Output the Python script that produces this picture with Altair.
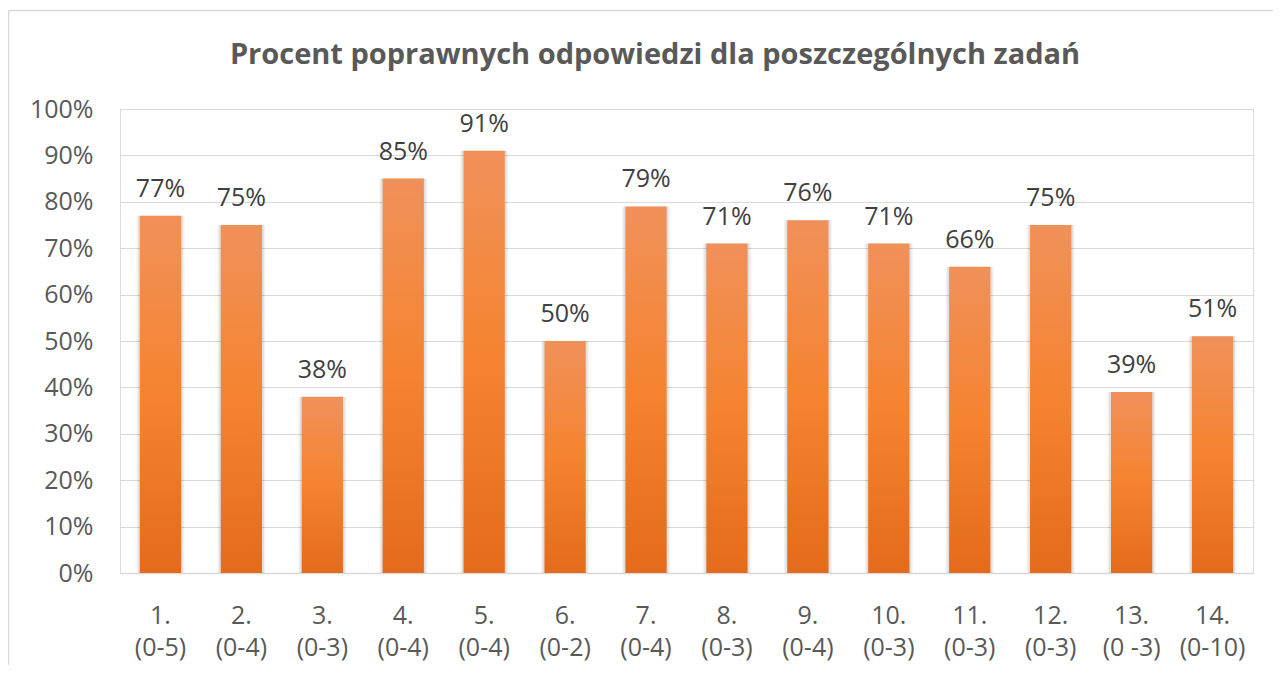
import altair as alt
import pandas as pd

title_text = "Procent poprawnych odpowiedzi dla poszczególnych zadań"
tasks = ["1.", "2.", "3.", "4.", "5.", "6.", "7.", "8.", "9.", "10.", "11.", "12.", "13.", "14."]
ranges = ["(0-5)", "(0-4)", "(0-3)", "(0-4)", "(0-4)", "(0-2)", "(0-4)", "(0-3)", "(0-4)",
          "(0-3)", "(0-3)", "(0-3)", "(0 -3)", "(0-10)"]
percent = [77, 75, 38, 85, 91, 50, 79, 71, 76, 71, 66, 75, 39, 51]
y_ticks = [0, 0.1, 0.2, 0.3, 0.4, 0.5, 0.6, 0.7, 0.8, 0.9, 1.0]

df = pd.DataFrame({
    "cat": [f"{t}\n{r}" for t, r in zip(tasks, ranges)],
    "value": [p / 100 for p in percent],
    "label": [f"{p}%" for p in percent],
})

FONT = "Open Sans"
GRAY = "#595959"

x_enc = alt.X("cat:N", sort=None,
              scale=alt.Scale(paddingInner=0.49, paddingOuter=0.245),
              axis=alt.Axis(title=None, labelAngle=0, labelExpr="split(datum.label, '\\n')",
                            ticks=False, domainColor="#D9D9D9", domainWidth=1.5,
                            labelFont=FONT, labelFontSize=25, labelColor=GRAY,
                            labelPadding=30, labelLineHeight=32, grid=False))
y_enc = alt.Y("value:Q", scale=alt.Scale(domain=[0, 1]),
              axis=alt.Axis(title=None, format=".0%", values=y_ticks, domain=False, ticks=False,
                            gridColor="#D9D9D9", gridWidth=1.2, labelFont=FONT, labelFontSize=25,
                            labelColor=GRAY, labelPadding=27))

base = alt.Chart(df)

shadow1 = base.mark_bar(size=48, color="#000000", opacity=0.05).encode(x=x_enc, y=y_enc)
shadow2 = base.mark_bar(size=45, color="#000000", opacity=0.07).encode(x=x_enc, y=y_enc)

bars = base.mark_bar(
    color=alt.Gradient(
        gradient="linear",
        stops=[alt.GradientStop(color="#F0915A", offset=0),
               alt.GradientStop(color="#F5832F", offset=0.5),
               alt.GradientStop(color="#E46B1B", offset=1)],
        x1=0, x2=0, y1=0, y2=1,
    )
).encode(x=x_enc, y=y_enc)

labels = base.mark_text(font=FONT, fontSize=25, color="#404040", baseline="alphabetic", dy=-19).encode(
    x=x_enc, y=y_enc, text="label:N")

one = pd.DataFrame({"t": [title_text]})
title = alt.Chart(one).mark_text(font=FONT, fontWeight="bold", fontSize=29, color=GRAY,
                                 baseline="middle", align="center").encode(
    x=alt.value(535), y=alt.value(-54), text="t:N")

border_v = alt.Chart(one).mark_rule(color="#D9D9D9", strokeWidth=1.5).encode(
    x=alt.value(-111.5), y=alt.value(-98.5), y2=alt.value(600))
border_h = alt.Chart(one).mark_rule(color="#D9D9D9", strokeWidth=1.5).encode(
    x=alt.value(-111.5), x2=alt.value(1200), y=alt.value(-98.5))

chart = alt.layer(border_v, border_h, shadow1, shadow2, bars, labels, title).properties(
    width=1133, height=464,
    autosize=alt.AutoSizeParams(type="none"),
    padding={"left": 112, "top": 101, "right": 20, "bottom": 92},
).configure_view(stroke=None).configure(background="white")

chart.save("out.html", embed_options={"renderer": "svg", "actions": False})
